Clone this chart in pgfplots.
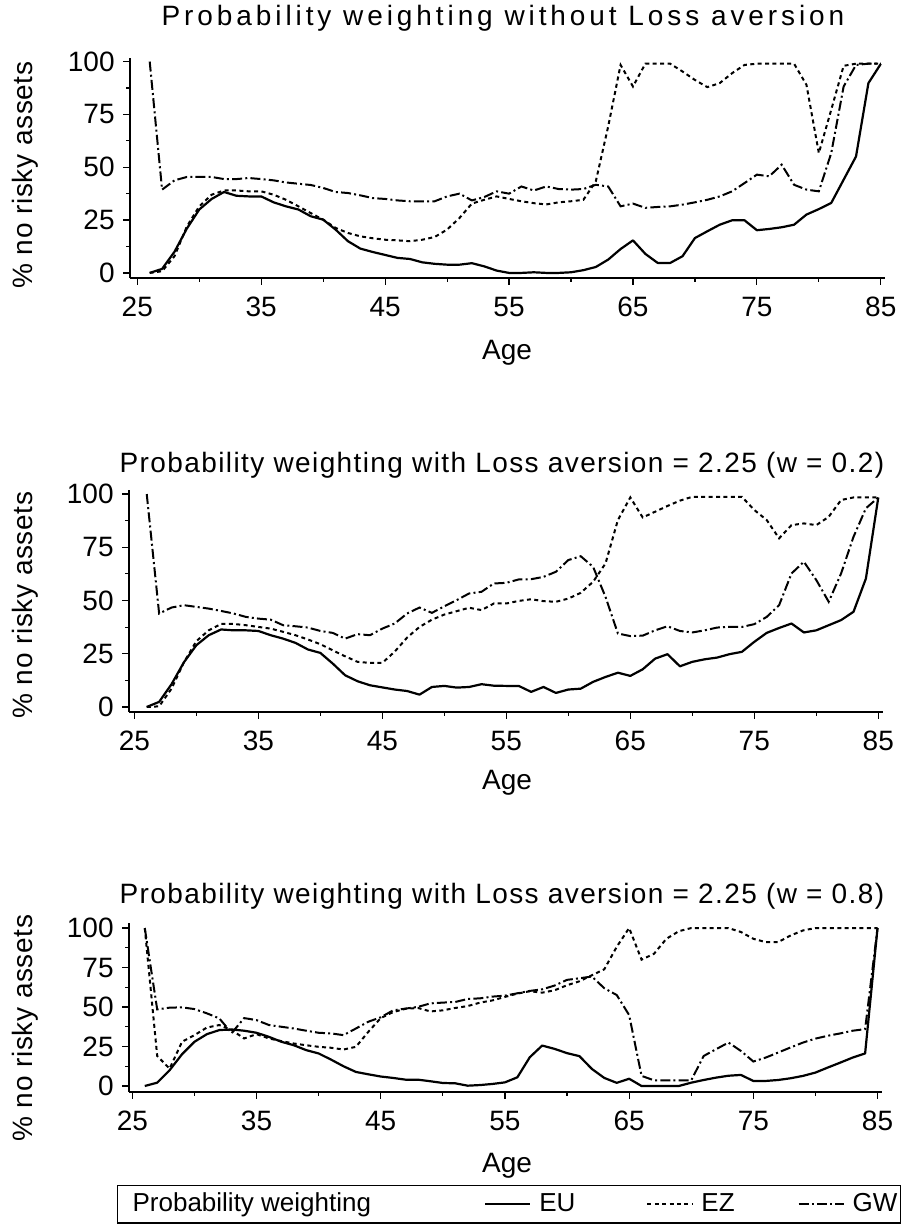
\documentclass[border=0pt]{standalone}
\usepackage{fontspec}
\setmainfont{Liberation Sans}
\newfontfamily\tA[LetterSpace=14]{Liberation Sans}
\newfontfamily\tB[LetterSpace=5]{Liberation Sans}
\newfontfamily\yl[LetterSpace=2.5]{Liberation Sans}
\usepackage{pgfplots}
\pgfplotsset{compat=1.18}
\usepackage{pgfplotstable}

\pgfplotstableread{
age eu ez gw
26 0 0 100
27 1.9 0.8 39.4
28 10 7.9 43.8
29 21 22 45.4
30 30 31.5 45.4
31 35 37 45.4
32 38.3 39 44.4
33 36.5 39 44.4
34 36.2 38.6 44.9
35 36.2 38.6 44.4
36 33.4 37 43.8
37 31.5 34.6 42.8
38 30 31.5 42.2
39 26.8 28.3 41.6
40 25.2 25.2 40.2
41 20.5 21.3 38.3
42 15 18.9 37.8
43 11.5 17.3 36.7
44 9.9 16.4 35.4
45 8.5 15.7 35
46 7.1 15.4 34.3
47 6.6 15 33.9
48 5 15.7 33.9
49 4.3 17 33.9
50 3.9 20.5 36.2
51 3.9 26 37.5
52 4.6 32.8 34.3
53 3.1 34.6 35.9
54 1.1 36.2 38.6
55 0 35 37.5
56 0 33.9 40.9
57 0.3 33 39
58 0 32.4 40.9
59 0 33.4 39.7
60 0.3 33.9 39.4
61 1.3 34.6 39.7
62 2.8 43.3 41.7
63 6.3 69.3 40.9
64 11.3 98.4 31.5
65 15.4 88.2 32.8
66 9 99 30.8
67 4.7 99 31.2
68 4.7 99 31.5
69 7.9 95.3 32.3
70 16.5 91.3 33.4
71 19.7 87.9 34.6
72 22.8 89.8 36.2
73 24.9 94.5 38.6
74 24.9 98.4 42.5
75 20.2 99 46.5
76 20.8 99 45.7
77 21.6 99 51.2
78 22.8 99 41.7
79 27.6 89 39.4
80 30.2 56.7 38.6
81 33.1 77.2 56.7
82 44.1 98 88.2
83 55.1 99 98.4
84 89.8 99 99
85 98.9 99 99
}\dataA

\pgfplotstableread{
age eu ez gw
26 0 0 100
27 2.4 0.3 43.9
28 10.7 8.6 46.7
29 21 21 47.8
30 29 30.9 47
31 33.7 36 46.2
32 36.4 39 45.1
33 36 39 43.9
34 36 38.4 42.3
35 35.7 37.6 41.5
36 33.7 36.8 41
37 32.1 35.3 38.4
38 30.1 33.7 37.9
39 27 31.7 37.3
40 25.4 29.5 35.7
41 20.4 26.6 34.8
42 14.9 23.8 32.1
43 12.1 21.2 34.2
44 10.2 20.7 33.7
45 9.2 20.7 36.8
46 8.2 26 39.2
47 7.5 32.6 43.9
48 5.8 37.6 46.7
49 9.4 41 44.2
50 9.9 43.4 47.3
51 9.1 45 50.2
52 9.4 46.6 53.3
53 10.7 45.5 54.1
54 10 48.6 58
55 9.9 48.6 58.3
56 9.9 49.8 59.9
57 7.1 50.6 60
58 9.4 49.7 61.1
59 6.6 49.4 63.5
60 8.2 50.9 69
61 8.6 53.6 70.8
62 11.8 58.8 65.8
63 14.1 67.4 51.7
64 16.1 87.8 34.5
65 14.6 98.4 33.3
66 17.7 89 33.5
67 22.7 91.7 36
68 24.8 94.4 37.9
69 19.1 96.9 35.7
70 21.2 98.7 35
71 22.4 98.7 36
72 23.2 98.7 37.3
73 24.8 98.7 37.6
74 25.9 98.7 37.6
75 30.6 92.5 38.9
76 34.8 87.8 42.3
77 37.1 79.2 47.8
78 39.2 85.4 62.7
79 35 86.2 68.2
80 36 85.4 59.6
81 38.4 89.3 49.4
82 40.8 97.2 62.7
83 44.7 98.4 79.9
84 60.3 98.4 93.3
85 98.4 98.4 98.4
}\dataB

\pgfplotstableread{
age eu ez gw
26 0 100 100
27 2.1 19 48.5
28 10 11 49.6
29 20.1 28 49.8
30 28 32.2 48.7
31 32.8 37 46
32 35.4 38.6 42.8
33 35.8 35.4 33.5
34 35 30.1 43
35 33.7 32.8 41.7
36 31.1 30.1 38.6
37 28 28.4 37.5
38 25.8 26.9 36.4
39 22.7 25.8 35
40 20.6 24.8 33.7
41 16.7 24.2 33.3
42 12.5 23.1 32.2
43 8.9 24.8 36.4
44 7.4 34.3 40.7
45 6 43 43.5
46 5.1 46.8 47.9
47 4 48.9 49
48 4 49.4 50.1
49 3 47.2 52.3
50 1.9 47.9 52.8
51 1.7 49.4 53.2
52 0.2 50.6 55.1
53 0.6 52.8 55.5
54 1.3 54.2 56.6
55 2.3 56.4 57.2
56 5.5 58.5 58.7
57 18.2 60 60.2
58 25.6 59.1 61.2
59 23.5 60.6 63.6
60 20.8 63.8 67.2
61 18.9 66.3 68.2
62 10.8 70.1 69.3
63 5.1 73.9 61.9
64 2 88.1 57.6
65 4.6 100 44.9
66 0 80 6.4
67 0 83.7 3.6
68 0 93.2 3.6
69 0 98 3.6
70 2.1 100 3.6
71 3.8 100 19
72 5.3 100 23.3
73 6.5 100 27.5
74 7 97.5 22.2
75 3.2 93.2 15.5
76 3.2 91.1 18
77 3.8 91.1 21.2
78 4.9 95.3 24.4
79 6.4 98.5 27.5
80 8.5 100 30
81 11.7 100 31.8
82 14.8 100 33.3
83 18 100 35
84 20.6 100 36
85 100 100 100
}\dataC

\newcommand{\fs}{\fontsize{14}{16}\selectfont}
\newcommand{\fl}{\fontsize{13}{15}\selectfont}

\pgfplotsset{
  panel/.style={
    scale only axis,
    axis lines=left,
    axis line style={-, line width=0.75pt, black},
    xtick={25,35,...,85},
    minor xtick={30,40,...,80},
    ytick={0,25,50,75,100},
    minor ytick={12.5,37.5,62.5,87.5},
    tick align=outside,
    major tick length=3.5pt,
    minor tick length=2pt,
    every tick/.style={black, line width=0.6pt},
    tick label style={font=\fs},
    xticklabel style={inner sep=0pt, anchor=north, yshift=-5.7pt},
    yticklabel style={inner sep=0pt, anchor=east, xshift=-4pt},
    /pgf/number format/assume math mode=true,
    clip=false,
    legend image code/.code={\draw[##1] (0pt,0pt) -- (22.5pt,0pt); \path (25pt,0pt);},
  },
  eu/.style={black, line width=1.1pt, line join=round},
  ez/.style={black, line width=1pt, dash pattern=on 2pt off 1.7pt},
  gw/.style={black, line width=1pt, dash pattern=on 5pt off 1.6pt on 1pt off 1.6pt},
}

\begin{document}
\begin{tikzpicture}
\path[use as bounding box] (0pt,0pt) rectangle (453.5pt,615pt);

\begin{axis}[panel, at={(65pt,476pt)}, anchor=south west,
  width=377.5pt, height=110pt,
  xmin=24.41, xmax=85.34, ymin=-2.4, ymax=101.7]
\addplot[eu] table[x=age,y=eu]{\dataA};
\addplot[ez] table[x=age,y=ez]{\dataA};
\addplot[gw] table[x=age,y=gw]{\dataA};
\end{axis}

\begin{axis}[panel, at={(64.5pt,259pt)}, anchor=south west,
  width=377pt, height=111pt,
  xmin=24.57, xmax=85.38, ymin=-2.35, ymax=101.9]
\addplot[eu] table[x=age,y=eu]{\dataB};
\addplot[ez] table[x=age,y=ez]{\dataB};
\addplot[gw] table[x=age,y=gw]{\dataB};
\end{axis}

\begin{axis}[panel, at={(64.5pt,69pt)}, anchor=south west,
  width=376.5pt, height=84.5pt,
  xmin=24.73, xmax=85.36, ymin=-3.8, ymax=103.2,
  legend style={at={(-0.0159,-0.663)}, anchor=west, draw=black,
    line width=0.6pt, font=\fl, legend columns=4,
    inner xsep=0pt, nodes={inner xsep=1.5pt},
    /tikz/column 2/.style={column sep=55pt},
    /tikz/column 4/.style={column sep=34pt},
    /tikz/column 6/.style={column sep=30pt}}]
\addlegendimage{empty legend}
\addlegendentry{\hspace*{6pt}Probability weighting}
\addplot[eu] table[x=age,y=eu]{\dataC};
\addlegendentry{EU}
\addplot[ez] table[x=age,y=ez]{\dataC};
\addlegendentry{EZ}
\addplot[gw] table[x=age,y=gw]{\dataC};
\addlegendentry{GW}
\end{axis}

\node[inner sep=0pt] at (251.5pt,606pt) {\fs\tA Probability weighting without Loss aversion};
\node[inner sep=0pt] at (251pt,382.5pt) {\fs\tB Probability weighting with Loss aversion = 2.25  (w = 0.2)};
\node[inner sep=0pt] at (251pt,167pt) {\fs\tB Probability weighting with Loss aversion = 2.25  (w = 0.8)};

\node[inner sep=0pt, font=\fs] at (253.5pt,438.5pt) {Age};
\node[inner sep=0pt, font=\fs] at (253.5pt,223.5pt) {Age};
\node[inner sep=0pt, font=\fs] at (253.5pt,32pt) {Age};

\node[inner sep=0pt, rotate=90] at (12.5pt,527.5pt) {\fs\yl \% no risky assets};
\node[inner sep=0pt, rotate=90] at (12.5pt,312.5pt) {\fs\yl \% no risky assets};
\node[inner sep=0pt, rotate=90] at (12.5pt,101pt) {\fs\yl \% no risky assets};
\end{tikzpicture}
\end{document}
